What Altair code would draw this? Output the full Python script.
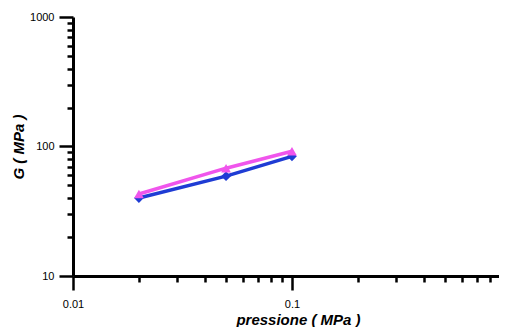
import altair as alt
import pandas as pd

# data
pressure = [0.02, 0.05, 0.1]
g_blue = [40, 59, 84]
g_pink = [43, 68, 92]
series_names = ["A", "B"]
series_colors = ["#1f3cd4", "#f055ec"]
series_shapes = ["diamond", "triangle-up"]

x_ticks = [0.01, 0.02, 0.03, 0.04, 0.05, 0.06, 0.07, 0.08, 0.09,
           0.1, 0.2, 0.3, 0.4, 0.5, 0.6, 0.7, 0.8]
x_major = [0.01, 0.1]
y_ticks = [10, 20, 30, 40, 50, 60, 70, 80, 90,
           100, 200, 300, 400, 500, 600, 700, 800, 900, 1000]
y_major = [10, 100, 1000]

df = pd.DataFrame({
    "p": pressure + pressure,
    "G": g_blue + g_pink,
    "s": [series_names[0]] * len(pressure) + [series_names[1]] * len(pressure),
})

def major_test(vals):
    return "indexof([" + ",".join(str(v) for v in vals) + "], datum.value) >= 0"

x_axis = alt.Axis(
    values=x_ticks,
    title="pressione ( MPa )",
    labelExpr=f"{major_test(x_major)} ? format(datum.value, '~g') : ''",
    tickSize={"condition": {"test": major_test(x_major), "value": 14}, "value": 6},
    labelPadding=8,
    labelFlush=False,
    titleX=225,
    titleY=48,
    titleAlign="center",
    titleBaseline="alphabetic",
    labelOverlap=False,
)
y_axis = alt.Axis(
    values=y_ticks,
    title="G ( MPa )",
    labelExpr=f"{major_test(y_major)} ? format(datum.value, '~g') : ''",
    tickSize={"condition": {"test": major_test(y_major), "value": 14}, "value": 6},
    labelPadding=5,
    labelFlush=False,
    titlePadding=3,
    labelOverlap=False,
)

x = alt.X("p:Q", scale=alt.Scale(type="log", domain=[0.01, 0.882], nice=False), axis=x_axis)
y = alt.Y("G:Q", scale=alt.Scale(type="log", domain=[10, 1000], nice=False), axis=y_axis)
color = alt.Color("s:N", scale=alt.Scale(domain=series_names, range=series_colors), legend=None)
shape = alt.Shape("s:N", scale=alt.Scale(domain=series_names, range=series_shapes), legend=None)

lines = alt.Chart(df).mark_line(strokeWidth=3.5).encode(x=x, y=y, color=color, detail="s:N")
points = alt.Chart(df).mark_point(filled=True, size=95, opacity=1).encode(
    x=x, y=y, color=color, shape=shape
)

chart = (
    alt.layer(lines, points)
    .properties(
        width=426,
        height=259,
        autosize=alt.AutoSizeParams(type="none"),
        padding={"left": 65, "top": 9, "right": 0, "bottom": 51},
        background="white",
    )
    .configure_view(stroke=None)
    .configure_axis(
        grid=False,
        domainColor="black",
        domainWidth=3,
        tickColor="black",
        tickWidth=2.5,
        labelFont="Liberation Sans",
        labelFontSize=11,
        labelColor="black",
        titleFont="Liberation Sans",
        titleFontSize=15,
        titleFontStyle="italic",
        titleFontWeight="bold",
        titleColor="black",
    )
)

chart.save("out.html", embed_options={"renderer": "svg", "actions": False})
